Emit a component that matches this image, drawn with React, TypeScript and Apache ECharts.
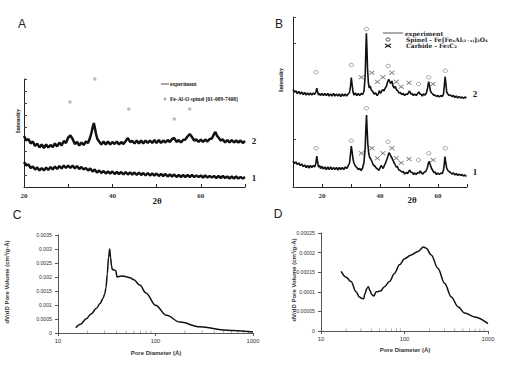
import React, { useEffect, useRef } from 'react';
import * as echarts from 'echarts';

// ---------- Panel A: XRD (2θ vs arbitrary intensity) ----------
const xrdA2: [number, number][] = [
  [20,51],[20.5,46.5],[21,48],[21.5,43.5],[22,45.5],[22.5,41],[23,43.5],[23.5,39.5],[24,42.5],[24.5,39],[25,42.5],[25.5,39.5],[26,42],[26.5,40],[27,43.5],[27.5,40.5],[28,44.5],[28.5,41.5],[29,46],[29.5,44],[30,49.5],[30.5,51.5],[31,48],[31.5,43],[32,45],[32.5,41.5],[33,44.5],[33.5,42],[34,45.5],[34.5,44],[35,50],[35.3,55],[35.6,61],[35.8,64],[36,60],[36.3,53],[36.6,48],[37,45.5],[37.5,42.5],[38,45.5],[38.5,42.5],[39,45.5],[39.5,42.5],[40,45],[40.5,43],[41,45.5],[41.5,42.5],[42,45],[42.5,43],[43,46],[43.5,49],[44,45],[44.5,46],[45,43.5],[45.5,46.5],[46,43.5],[46.5,46.5],[47,43.5],[47.5,46.5],[48,44],[48.5,46.5],[49,44],[49.5,47],[50,44],[50.5,47],[51,44],[51.5,46.5],[52,44.5],[52.5,47],[53,45],[53.5,48],[54,49],[54.5,45],[55,47],[55.5,44.5],[56,47],[56.5,47.5],[57,50.5],[57.5,53],[58,50],[58.5,46.5],[59,47.5],[59.5,45],[60,47.5],[60.5,45],[61,47.5],[61.5,45.5],[62,48],[62.5,48.5],[63,53],[63.3,55],[63.7,51],[64,49.5],[64.5,46.5],[65,47.5],[65.5,44.5],[66,47],[66.5,44.5],[67,47],[67.5,44.5],[68,46.5],[68.5,44.5],[69,46.5],[69.5,44],[70,46]
];
const xrdA1: [number, number][] = [
  [20,25],[20.5,21.5],[21,22.5],[21.5,19],[22,20.5],[22.5,17.5],[23,19.5],[23.5,16.5],[24,19],[24.5,16.5],[25,19.5],[25.5,17],[26,20],[26.5,17.5],[27,20.5],[27.5,18],[28,21],[28.5,18.5],[29,21.5],[29.5,19],[30,21.5],[30.5,19],[31,21.5],[31.5,18.5],[32,21],[32.5,18],[33,20],[33.5,17.5],[34,19],[34.5,16.5],[35,18.5],[35.5,15.5],[36,17.5],[36.5,14.5],[37,16.5],[37.5,14],[38,16],[38.5,13.5],[39,15.5],[39.5,13.5],[40,15.5],[40.5,13],[41,15],[41.5,13],[42,15],[42.5,12.5],[43,15],[43.5,12.5],[44,14.5],[44.5,12.5],[45,14.5],[45.5,12],[46,14.5],[46.5,12],[47,14],[47.5,11.5],[48,14],[48.5,11.5],[49,13.5],[49.5,11.5],[50,13.5],[50.5,11],[51,13],[51.5,11],[52,13],[52.5,10.5],[53,12.5],[53.5,10.5],[54,12.5],[54.5,10],[55,12],[55.5,10],[56,12],[56.5,10],[57,12],[57.5,10],[58,12],[58.5,10],[59,11.5],[59.5,10],[60,11.5],[60.5,9.5],[61,11.5],[61.5,9.5],[62,11],[62.5,9.5],[63,11],[63.5,9],[64,11],[64.5,9],[65,11],[65.5,9],[66,10.5],[66.5,8.5],[67,10.5],[67.5,8.5],[68,10.5],[68.5,8.5],[69,10],[69.5,8.5],[70,10]
];
const spinelA: [number, number][] = [[30.4,85],[36,108],[43.7,78],[54,68],[57.5,78]];

// ---------- Panel B: XRD ----------
const xrdB2: [number, number][] = [
  [10,97.5],[10.5,95],[11,96],[11.5,93.5],[12,95.5],[12.5,93],[13,95],[13.5,92.5],[14,94.5],[14.5,92],[15,94],[15.5,92],[16,94],[16.5,92],[17,94],[17.5,92.5],[17.9,95],[18.2,98.7],[18.5,95],[18.8,92],[19.2,93.5],[19.5,91.5],[20,93.5],[20.5,91.5],[21,93.5],[21.5,91.5],[22,93.5],[22.5,91],[23,93],[23.5,91],[24,93.5],[24.5,91],[25,93],[25.5,91],[26,93],[26.5,90.5],[27,93],[27.5,91],[28,93],[28.5,91],[29,93],[29.5,94.5],[29.8,100],[30.1,109.5],[30.4,102],[30.7,95],[31,92],[31.5,94],[32,91.5],[32.5,93.5],[33,91.5],[33.5,93.5],[34,92.5],[34.5,96],[34.9,112],[35.15,140],[35.3,153.7],[35.5,138],[35.7,118],[36,104],[36.3,99],[36.6,101],[37,97],[37.5,95.5],[38,93],[38.5,94],[39,91.5],[39.4,93],[39.8,96.5],[40.2,93.5],[40.6,96],[41,97.5],[41.4,96],[41.8,99],[42.2,100.5],[42.6,105],[43,107.7],[43.4,105],[43.7,103.5],[44.1,106],[44.5,101],[44.9,99],[45.3,100.5],[45.7,97],[46.1,96.5],[46.5,94],[47,94.5],[47.5,92.5],[48,93.5],[48.5,91.5],[49,93],[49.5,92.5],[49.9,95],[50.2,96],[50.6,93],[51,93.5],[51.5,91.5],[52,93],[52.5,91.5],[53,93.5],[53.4,95],[53.8,93],[54.2,92.5],[54.6,91],[55,93],[55.5,92],[56,94],[56.4,99],[56.8,105.3],[57.1,101],[57.4,96],[57.8,94],[58.2,93],[58.6,91.5],[59,92],[59.5,90.5],[60,91.5],[60.5,90],[61,91.5],[61.5,90.5],[61.9,93],[62.2,102],[62.45,110.3],[62.7,104],[63,95],[63.4,93],[63.8,91.5],[64.3,92],[64.8,90.5],[65.3,91.5],[65.8,89.5],[66.3,91],[66.8,89],[67.3,90.5],[67.8,89],[68.3,90],[68.8,88.5],[69.3,90],[69.8,89]
];
const xrdB1: [number, number][] = [
  [10,26],[10.5,23.5],[11,25],[11.5,22.5],[12,24],[12.5,21.5],[13,23],[13.5,20.5],[14,22],[14.5,19.5],[15,21.5],[15.5,19],[16,21.5],[16.5,19.5],[17,21.5],[17.5,20],[17.9,24],[18.2,31],[18.5,25],[18.8,20],[19.2,21.5],[19.5,18.5],[20,20.5],[20.5,18],[21,20],[21.5,17.5],[22,20],[22.5,17.5],[23,20],[23.5,17.5],[24,19.5],[24.5,17.5],[25,19.5],[25.5,17],[26,19.5],[26.5,17.5],[27,19.5],[27.5,17.5],[28,20],[28.5,18.5],[29,21],[29.5,24],[29.8,32],[30.1,41],[30.4,35],[30.7,28],[31,24],[31.5,21],[32,19.5],[32.5,17.5],[33,18.5],[33.5,16.5],[34,19],[34.5,25],[34.9,40],[35.15,60],[35.35,72],[35.55,58],[35.8,43],[36.1,34],[36.4,30],[36.8,28],[37.2,25.5],[37.7,22],[38.2,21],[38.7,19],[39.2,18],[39.6,16.5],[40,19],[40.4,21.5],[40.8,20],[41.1,18.5],[41.5,21.5],[41.9,24],[42.3,27],[42.7,30.5],[43.1,34.3],[43.5,32.5],[43.9,30],[44.3,28],[44.7,25],[45.1,23],[45.6,20],[46,20.5],[46.5,17],[47,16.5],[47.5,15],[48,15.5],[48.5,13],[49,14.5],[49.5,13.5],[50,16],[50.3,17],[50.7,14.5],[51.2,14.5],[51.6,12.5],[52,14],[52.5,12.5],[53,14.5],[53.5,14],[53.9,16],[54.3,14],[54.8,13],[55.3,15],[55.8,15.5],[56.3,19],[56.7,24],[57,25.5],[57.3,22.5],[57.7,19],[58.2,16.5],[58.6,14.5],[59,15],[59.5,12.5],[60,14],[60.5,12.5],[61,14],[61.5,13.5],[61.9,17],[62.2,24],[62.4,30.5],[62.7,24],[63,19],[63.4,16.5],[63.8,15.5],[64.3,14.5],[64.8,13],[65.3,14],[65.8,12],[66.3,13.5],[66.8,11.5],[67.3,13],[67.8,11.5],[68.3,12.5],[68.8,11],[69.3,12],[69.8,10.5]
];
const spinelB2: [number, number][] = [[18,114.7],[30.1,122],[35.3,158],[42.8,121],[53.3,103],[56.8,109.7],[62.5,116.3]];
const spinelB1: [number, number][] = [[18,38.7],[30.1,46.3],[35.3,78.7],[42.8,45.3],[53.3,27],[56.8,33.7],[62.5,38.7]];
const carbideB2: [number, number][] = [[33.6,109.7],[37.2,114.3],[39.1,105.3],[41,109.7],[44.1,114.3],[45.6,105.3],[47.3,100.3],[50,104.3],[58.3,103]];
const carbideB1: [number, number][] = [[33.6,33.7],[37.2,38.7],[39.1,28.7],[41,33.7],[44.1,38.7],[45.6,28.7],[47.3,24.3],[50,28],[58.3,27]];

// ---------- Panel C / D: pore size distribution ----------
const poreC: [number, number][] = [
  [15.2,0.00019],[17,0.00031],[19.5,0.00051],[22,0.00069],[24.8,0.00088],[27,0.00105],[28.9,0.00123],[30.2,0.0014],[31,0.0016],[32,0.0021],[33,0.0027],[33.9,0.003],[34.6,0.0027],[35.4,0.0024],[36.1,0.00226],[37.5,0.00226],[39.2,0.00222],[40.3,0.002],[42,0.00202],[45,0.00204],[50,0.00201],[55,0.00197],[60,0.0019],[69,0.00171],[80,0.00143],[100,0.00099],[130,0.00063],[178,0.00039],[285,0.00022],[537,0.0001],[1000,0.00004]
];
const poreD: [number, number][] = [
  [17.4,0.000152],[20,0.000137],[22.9,0.000126],[26.3,0.0001],[28.8,0.000087],[31,0.000083],[32.5,0.000082],[33.5,0.000095],[35.6,0.000109],[37,0.000113],[38.5,0.000103],[40.5,0.000093],[42.9,0.000089],[45.7,0.0001],[51.5,0.000102],[57.5,0.000113],[66,0.000126],[75.9,0.000147],[87,0.000169],[100,0.000184],[120,0.000194],[145,0.000203],[169,0.000214],[182,0.000211],[209,0.000194],[251,0.00016],[302,0.000122],[363,0.000087],[437,0.000062],[525,0.000046],[692,0.000036],[1000,0.000019]
];
const logMinorTicks: number[] = [20,30,40,50,60,70,80,90,200,300,400,500,600,700,800,900];

const SERIF = 'Liberation Serif';
const SANS = 'Liberation Sans';

export default function App() {
  const ref = useRef<HTMLDivElement>(null);
  useEffect(() => {
    const chart = echarts.init(ref.current!, null, { renderer: 'svg' });
    const xrdAxisX = (gi: number, min: number) => ({
      gridIndex: gi, type: 'value', min, max: 70, interval: 10,
      axisLine: { show: true, lineStyle: { color: '#222', width: 1 } },
      axisTick: { show: true, inside: true, length: 3, lineStyle: { color: '#222' } },
      axisLabel: { formatter: (v: number) => (v % 20 === 0 ? String(v) : ''), fontFamily: SERIF, fontWeight: 'bold', fontSize: 7, color: '#333', margin: 5 },
      splitLine: { show: false },
    });
    const xrdAxisY = (gi: number, max: number, interval: number) => ({
      gridIndex: gi, type: 'value', min: 0, max, interval,
      axisLine: { show: true, lineStyle: { color: '#222', width: 1 } },
      axisTick: { show: true, inside: true, length: 3, lineStyle: { color: '#444' } },
      axisLabel: { show: false },
      splitLine: { show: false },
    });
    const logX = (gi: number) => ({
      gridIndex: gi, type: 'log', logBase: 10, min: 10, max: 1000,
      axisLine: { show: true, lineStyle: { color: '#555', width: 1 } },
      axisTick: { show: true, length: 3, lineStyle: { color: '#555' } },
      minorTick: { show: false },
      axisLabel: { formatter: (v: number) => String(Math.round(v)), fontFamily: SANS, fontSize: 5.8, color: '#333', margin: 5 },
      splitLine: { show: false },
      minorSplitLine: { show: false },
    });
    const poreY = (gi: number, max: number, interval: number, digits: number) => ({
      gridIndex: gi, type: 'value', min: 0, max, interval,
      axisLine: { show: true, lineStyle: { color: '#555', width: 1 } },
      axisTick: { show: true, length: 3, lineStyle: { color: '#555' } },
      axisLabel: { formatter: (v: number) => String(+v.toFixed(digits)), fontFamily: SANS, fontSize: 5.2, color: '#333', margin: 6 },
      splitLine: { show: false },
    });
    const line = (data: [number, number][], gi: number, width: number, smooth: boolean) => ({
      type: 'line', xAxisIndex: gi, yAxisIndex: gi, data, showSymbol: false, symbol: 'none',
      smooth: smooth ? 0.35 : false, smoothMonotone: smooth ? 'x' : undefined,
      lineStyle: { color: '#111', width }, silent: true, clip: false,
    });
    const minorTicks = (gi: number) => ({
      type: 'scatter', xAxisIndex: gi, yAxisIndex: gi, data: logMinorTicks.map((v) => [v, 0]),
      symbol: 'rect', symbolSize: [0.7, 2.5], symbolOffset: [0, -1.25], itemStyle: { color: '#777' }, silent: true, clip: false,
    });
    const oMark = { color: '#fff', borderColor: '#777', borderWidth: 0.8 };
    const xPath = 'path://M0,0L10,8M0,8L10,0';
    const xMark = { color: 'none', borderColor: '#555', borderWidth: 0.9 };
    const txt = (x: number, y: number, text: string, fontSize: number, fontFamily: string, fontWeight: string, extra: any = {}) => ({
      type: 'text', x, y, silent: true, ...extra,
      style: { text, fontSize, fontFamily, fontWeight, fill: '#222', align: 'center', verticalAlign: 'middle', ...(extra.style || {}) },
    });

    const option: any = {
      animation: false,
      backgroundColor: '#fff',
      grid: [
        { left: 24, top: 79, width: 221, height: 108, outerBoundsMode: 'none' },
        { left: 293, top: 17, width: 174, height: 170, outerBoundsMode: 'none' },
        { left: 58, top: 235, width: 195, height: 98, outerBoundsMode: 'none' },
        { left: 321, top: 233, width: 167, height: 98, outerBoundsMode: 'none' },
      ],
      xAxis: [xrdAxisX(0, 20), xrdAxisX(1, 10), logX(2), logX(3)],
      yAxis: [xrdAxisY(0, 108, 12), xrdAxisY(1, 170, 48), poreY(2, 0.0035, 0.0005, 5), poreY(3, 0.00025, 0.00005, 6)],
      series: [
        line(xrdA2, 0, 2.5, false),
        line(xrdA1, 0, 2.4, false),
        { type: 'scatter', xAxisIndex: 0, yAxisIndex: 0, data: spinelA, symbol: 'circle', symbolSize: 3.5, itemStyle: { color: '#aaa' }, clip: false, silent: true },
        line(xrdB2, 1, 1.6, false),
        line(xrdB1, 1, 1.6, false),
        { type: 'scatter', xAxisIndex: 1, yAxisIndex: 1, data: spinelB2, symbol: 'circle', symbolSize: [4.5, 3.5], itemStyle: oMark, clip: false, silent: true },
        { type: 'scatter', xAxisIndex: 1, yAxisIndex: 1, data: spinelB1, symbol: 'circle', symbolSize: [4.5, 3.5], itemStyle: oMark, clip: false, silent: true },
        { type: 'scatter', xAxisIndex: 1, yAxisIndex: 1, data: carbideB2, symbol: xPath, symbolSize: [5, 4], itemStyle: xMark, clip: false, silent: true },
        { type: 'scatter', xAxisIndex: 1, yAxisIndex: 1, data: carbideB1, symbol: xPath, symbolSize: [5, 4], itemStyle: xMark, clip: false, silent: true },
        line(poreC, 2, 1.5, true),
        minorTicks(2),
        line(poreD, 3, 1.5, true),
        minorTicks(3),
      ],
      graphic: [
        txt(22, 24, 'A', 12, SANS, 'normal'),
        txt(279, 24, 'B', 12, SANS, 'normal'),
        txt(17, 215, 'C', 12, SANS, 'normal'),
        txt(278, 214, 'D', 12, SANS, 'normal'),
        txt(17.5, 121, 'Intensity', 6.5, SERIF, 'bold', { rotation: Math.PI / 2 }),
        txt(280, 80, 'Intensity', 6.5, SERIF, 'bold', { rotation: Math.PI / 2 }),
        txt(157, 201, '2θ', 9, SERIF, 'bold'),
        txt(412, 200, '2θ', 9, SERIF, 'bold'),
        txt(254, 141, '2', 9, SERIF, 'bold'),
        txt(254, 178, '1', 9, SERIF, 'bold'),
        txt(475, 94, '2', 9, SERIF, 'bold'),
        txt(475, 172, '1', 9, SERIF, 'bold'),
        // legend A
        { type: 'line', silent: true, shape: { x1: 161, y1: 84, x2: 169, y2: 84 }, style: { stroke: '#222', lineWidth: 0.8 } },
        txt(170, 84, 'experiment', 5.5, SERIF, 'bold', { style: { align: 'left' } }),
        { type: 'circle', silent: true, shape: { cx: 165, cy: 99, r: 1.4 }, style: { fill: '#aaa' } },
        txt(170, 99, 'Fe-Al-O spinel [01-089-7408]', 5.5, SERIF, 'bold', { style: { align: 'left' } }),
        // legend B
        { type: 'line', silent: true, shape: { x1: 383, y1: 33, x2: 403, y2: 33 }, style: { stroke: '#444', lineWidth: 0.9 } },
        txt(405, 33, 'experiment', 6, 'DejaVu Serif', 'bold', { style: { align: 'left' } }),
        { type: 'ellipse', silent: true, shape: { cx: 388, cy: 39.5, rx: 2.2, ry: 1.6 }, style: { fill: '#fff', stroke: '#333', lineWidth: 0.9 } },
        txt(406, 39.5, 'Spinel - Fe[FeₓAl₍₁₋ₓ₎]₂O₄', 6, 'DejaVu Serif', 'bold', { style: { align: 'left' } }),
        { type: 'line', silent: true, shape: { x1: 385, y1: 44, x2: 391, y2: 47.5 }, style: { stroke: '#222', lineWidth: 1.3 } },
        { type: 'line', silent: true, shape: { x1: 385, y1: 47.5, x2: 391, y2: 44 }, style: { stroke: '#222', lineWidth: 1.3 } },
        txt(406, 45.8, 'Carbide - Fe₅C₂', 6, 'DejaVu Serif', 'bold', { style: { align: 'left' } }),
        // C / D titles
        txt(156, 353, 'Pore Diameter (Å)', 6, SANS, 'bold', { style: { fill: '#333' } }),
        txt(405, 350, 'Pore Diameter (Å)', 6, SANS, 'bold', { style: { fill: '#333' } }),
        txt(7, 282, 'dV/dD Pore Volume (cm³/g-Å)', 6, SANS, 'bold', { rotation: Math.PI / 2, style: { fill: '#333' } }),
        txt(294, 280, 'dV/dD Pore Volume (cm³/g-Å)', 6, SANS, 'bold', { rotation: Math.PI / 2, style: { fill: '#333' } }),
      ],
    };
    chart.setOption(option);
    return () => chart.dispose();
  }, []);
  return <div ref={ref} style={{ position: 'absolute', left: 0, top: 0, width: 517, height: 367, background: '#fff' }} />;
}
